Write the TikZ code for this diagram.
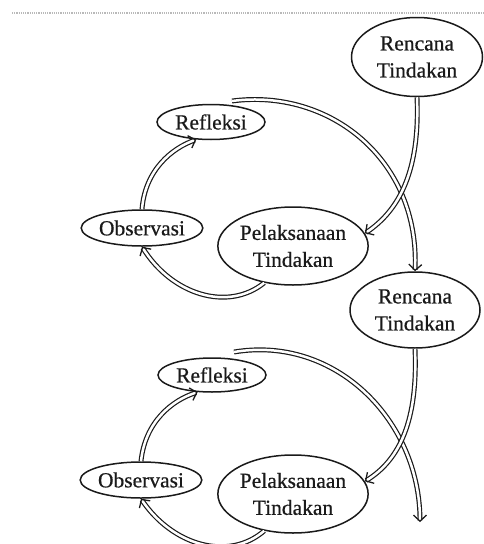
\documentclass[tikz,border=0pt]{standalone}
\usepackage{fontspec}
\setmainfont{Liberation Serif}
\newfontfamily\scanfont{Liberation Serif}[FakeBold=0.6]
\usetikzlibrary{shapes.geometric,arrows.meta}
\definecolor{ink}{HTML}{1A1A1A}
\begin{document}
\begin{tikzpicture}[x=1pt,y=-1pt,
  stage/.style={ellipse,draw=ink,line width=1.5pt,inner sep=0pt,align=center,
    text=ink,font=\scanfont\fontsize{21.5}{27}\selectfont},
  flow/.style={draw=ink,line width=1.2pt,double=white,double distance=2.5pt,
    -{Straight Barb[length=6pt,width=13pt,line width=1.3pt]}}]
\useasboundingbox (0,0) rectangle (484,544);
\clip (0,0) rectangle (484,544);
\draw[gray!55,line width=1.2pt,densely dotted] (12,13) -- (484,13);

% cycle 1
\node[stage,minimum width=131pt,minimum height=79pt] (ren1) at (417,57) {Rencana\\Tindakan};
\node[stage,minimum width=108pt,minimum height=35pt] (ref1) at (211,122) {Refleksi};
\node[stage,minimum width=108pt,minimum height=36pt] (obs1) at (142,228) {Observasi};
\node[stage,minimum width=133pt,minimum height=78pt] (pel1) at (293,246) {Pelaksanaan\\Tindakan};

% cycle 2
\node[stage,minimum width=130pt,minimum height=76pt] (ren2) at (415,310) {Rencana\\Tindakan};
\node[stage,minimum width=108pt,minimum height=34pt] (ref2) at (212,375) {Refleksi};
\node[stage,minimum width=107pt,minimum height=36pt] (obs2) at (141,480) {Observasi};
\node[stage,minimum width=131pt,minimum height=78pt] (pel2) at (293,494) {Pelaksanaan\\Tindakan};

\coordinate (a1s) at (232,101);
\coordinate (a2s) at (234,352);
\coordinate (a2e) at (420,522);

% arrows cycle 1
\draw[flow] (a1s) .. controls (330,88) and (420,160) .. (ren2.north);
\draw[flow] (ren1.south) .. controls (420,170) and (400,210) .. (pel1.10);
\draw[flow] (pel1.-128) .. controls (228,312) and (172,295) .. (obs1.south);
\draw[flow] (obs1.north) .. controls (145,170) and (172,148) .. (ref1.-130);

% arrows cycle 2
\draw[flow] (a2s) .. controls (335,335) and (420,420) .. (a2e);
\draw[flow] (ren2.south) .. controls (418,420) and (400,460) .. (pel2.10);
\draw[flow] (pel2.-128) .. controls (228,562) and (172,545) .. (obs2.south);
\draw[flow] (obs2.north) .. controls (145,422) and (172,400) .. (ref2.-130);
\end{tikzpicture}
\end{document}
